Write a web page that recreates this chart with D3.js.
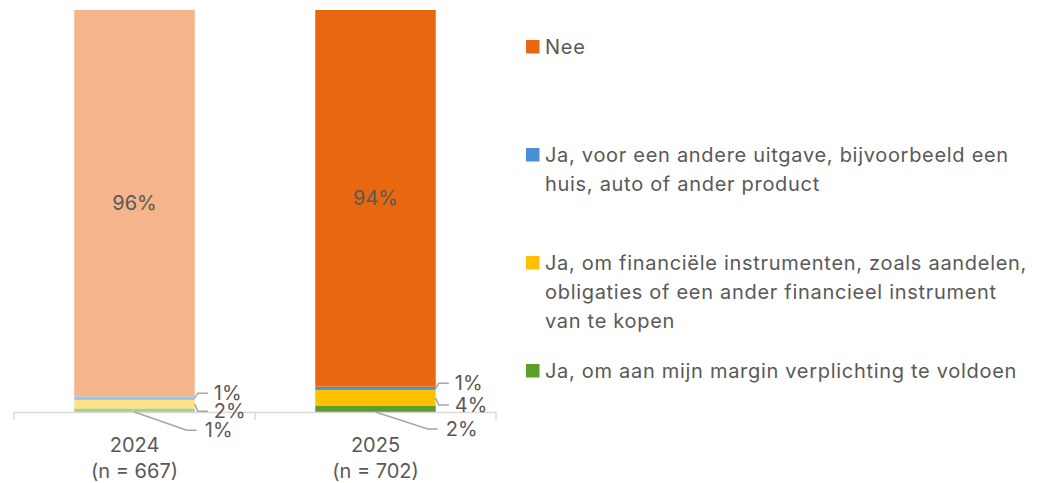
<!DOCTYPE html>
<html>
<head>
<meta charset="utf-8">
<script src="https://cdn.jsdelivr.net/npm/d3@7"></script>
<style>
  html, body { margin: 0; padding: 0; background: #fff; }
  svg text { font-family: Inter, "Open Sans", sans-serif; fill: #595959; font-size: 20px; }
  .legend text { letter-spacing: 0.7px; }
</style>
</head>
<body>
<svg id="chart" width="1040" height="483"></svg>
<script>
// categories (x axis) and their sample sizes
var years = ["2024", "2025"];
var sampleSizes = ["(n = 667)", "(n = 702)"];

// series, stacked from the bottom up
var seriesKeys = ["margin", "instrumenten", "uitgave", "nee"];
var seriesLabels = [
  ["Ja, om aan mijn margin verplichting te voldoen"],
  ["Ja, om financiële instrumenten, zoals aandelen,", "obligaties of een ander financieel instrument", "van te kopen"],
  ["Ja, voor een andere uitgave, bijvoorbeeld een", "huis, auto of ander product"],
  ["Nee"]
];

// percentages per year, same order as seriesKeys
var values2024 = [0.9, 2.1, 0.9, 96.1];
var values2025 = [1.5, 4.0, 0.8, 93.7];

// 2024 is drawn in faded tints, 2025 in full colours
var colors2024 = ["#a9d08e", "#ffe187", "#9dc3e6", "#f4b58a"];
var colors2025 = ["#5a9e2c", "#ffc000", "#4a8fd4", "#e9680f"];

(function () {
  var svg = d3.select("#chart");

  var rows = years.map(function (yr, i) {
    var vals = i === 0 ? values2024 : values2025;
    var r = { year: yr, n: sampleSizes[i] };
    seriesKeys.forEach(function (k, j) { r[k] = vals[j]; });
    return r;
  });

  var stacked = d3.stack().keys(seriesKeys)(rows);

  var x = d3.scaleBand()
    .domain(years)
    .range([14, 496])
    .paddingInner(0.5)
    .paddingOuter(0.25);

  var y = d3.scaleLinear()
    .domain([0, 100])
    .range([412, 10]);

  var fmt = function (v) { return Math.round(v) + "%"; };

  // bars
  stacked.forEach(function (layer, si) {
    svg.append("g")
      .selectAll("rect")
      .data(layer)
      .join("rect")
        .attr("x", function (d) { return x(d.data.year); })
        .attr("width", x.bandwidth())
        .attr("y", function (d) { return y(d[1]); })
        .attr("height", function (d) { return y(d[0]) - y(d[1]); })
        .attr("fill", function (d, i) { return (i === 0 ? colors2024 : colors2025)[si]; });
  });

  // category axis with ticks between categories
  var step = x.step();
  var axisG = svg.append("g").attr("class", "xaxis");
  axisG.append("line")
    .attr("x1", x.range()[0]).attr("x2", x.range()[1])
    .attr("y1", y(0) + 0.5).attr("y2", y(0) + 0.5)
    .attr("stroke", "#d9d9d9").attr("stroke-width", 1.5);
  d3.range(years.length + 1).forEach(function (i) {
    var tx = x.range()[0] + i * step;
    axisG.append("line")
      .attr("x1", tx).attr("x2", tx)
      .attr("y1", y(0)).attr("y2", y(0) + 8)
      .attr("stroke", "#d9d9d9").attr("stroke-width", 1.5);
  });
  rows.forEach(function (r) {
    var cx = x(r.year) + x.bandwidth() / 2;
    axisG.append("text")
      .attr("x", cx).attr("y", y(0) + 40)
      .attr("text-anchor", "middle")
      .text(r.year);
    axisG.append("text")
      .attr("x", cx).attr("y", y(0) + 66)
      .attr("text-anchor", "middle")
      .text(r.n);
  });

  // data labels
  var labels = svg.append("g").attr("class", "labels");
  stacked.forEach(function (layer, si) {
    layer.forEach(function (d) {
      var bx = x(d.data.year), bw = x.bandwidth();
      var right = bx + bw;
      var mid = y((d[0] + d[1]) / 2);
      var key = seriesKeys[si];
      var txt = fmt(d[1] - d[0]);
      if (key === "nee") {
        labels.append("text")
          .attr("x", bx + bw / 2).attr("y", mid)
          .attr("dy", "0.35em")
          .attr("text-anchor", "middle")
          .text(txt);
        return;
      }
      var pts, tx, ly;
      if (key === "margin") {
        ly = mid + 20;
        pts = [[bx + bw / 2, y(0)], [right - 8, ly], [right + 2, ly]];
        tx = right + 10;
      } else {
        ly = key === "uitgave" ? mid - 5 : mid + 7;
        pts = [[right, mid], [right + 3, ly], [right + 13, ly]];
        tx = right + 19;
      }
      labels.append("path")
        .attr("d", d3.line()(pts))
        .attr("fill", "none")
        .attr("stroke", "#a6a6a6")
        .attr("stroke-width", 1.5);
      labels.append("text")
        .attr("x", tx).attr("y", ly)
        .attr("dy", "0.35em")
        .text(txt);
    });
  });

  // legend (top item first)
  var legendBaselines = [54, 162, 270, 378];
  var legendOrder = ["nee", "uitgave", "instrumenten", "margin"];
  var legend = svg.append("g").attr("class", "legend");
  legendOrder.forEach(function (key, i) {
    var si = seriesKeys.indexOf(key);
    var base = legendBaselines[i];
    legend.append("rect")
      .attr("x", 526).attr("y", base - 14)
      .attr("width", 13.5).attr("height", 13.5)
      .attr("fill", colors2025[si]);
    var t = legend.append("text")
      .attr("x", 545).attr("y", base);
    seriesLabels[si].forEach(function (line, li) {
      t.append("tspan")
        .attr("x", 545)
        .attr("dy", li === 0 ? 0 : 29)
        .text(line);
    });
  });
})();
</script>
</body>
</html>
